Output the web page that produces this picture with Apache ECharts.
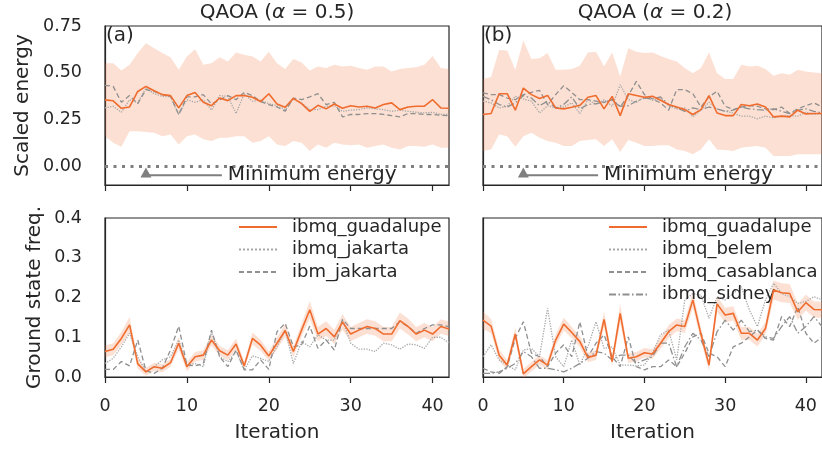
<!DOCTYPE html>
<html>
<head>
<meta charset="utf-8">
<script src="https://cdn.jsdelivr.net/npm/echarts@6/dist/echarts.min.js"></script>
<style>
  html, body { margin: 0; background: #fff; }
  #chart { width: 822px; height: 456px; }
</style>
</head>
<body>
<div id="chart"></div>
<script>
// iterations 0..42
var iters = [0,1,2,3,4,5,6,7,8,9,10,11,12,13,14,15,16,17,18,19,20,21,22,23,24,25,26,27,28,29,30,31,32,33,34,35,36,37,38,39,40,41,42];
var energyTicks = [0, 0.25, 0.5, 0.75];
var freqTicks = [0, 0.1, 0.2, 0.3, 0.4];

// (a) QAOA alpha = 0.5 -- scaled energy
var tlMean = [0.355,0.350,0.310,0.317,0.400,0.427,0.404,0.383,0.378,0.312, 0.378,0.395,0.342,0.324,0.365,0.351,0.378,0.378,0.369,0.346, 0.388,0.333,0.316,0.363,0.335,0.294,0.326,0.307,0.333,0.310, 0.324,0.317,0.321,0.312,0.330,0.339,0.303,0.317,0.321,0.321, 0.356,0.312,0.310];
var tlUpper = [0.551,0.551,0.512,0.543,0.605,0.658,0.631,0.605,0.583,0.516, 0.587,0.626,0.543,0.551,0.583,0.560,0.608,0.596,0.587,0.560, 0.613,0.551,0.520,0.573,0.555,0.512,0.534,0.525,0.543,0.534, 0.537,0.525,0.516,0.534,0.534,0.507,0.520,0.525,0.530,0.543, 0.590,0.525,0.520];
var tlLower = [0.161,0.126,0.105,0.188,0.188,0.183,0.179,0.161,0.170,0.117, 0.161,0.170,0.144,0.135,0.152,0.152,0.161,0.161,0.126,0.135, 0.161,0.117,0.108,0.135,0.126,0.082,0.117,0.099,0.126,0.117, 0.112,0.117,0.099,0.108,0.117,0.099,0.090,0.108,0.108,0.105, 0.117,0.099,0.099];
var tlJakartaQ = [0.312,0.321,0.289,0.356,0.339,0.418,0.388,0.374,0.371,0.277, 0.356,0.342,0.356,0.300,0.378,0.374,0.282,0.388,0.348,0.353, 0.335,0.324,0.303,0.360,0.339,0.303,0.303,0.321,0.324,0.294, 0.300,0.303,0.312,0.307,0.303,0.294,0.300,0.294,0.289,0.285, 0.289,0.277,0.277];
var tlJakartaIbm = [0.433,0.427,0.342,0.378,0.335,0.410,0.401,0.383,0.374,0.277, 0.371,0.371,0.383,0.333,0.356,0.378,0.356,0.395,0.378,0.346, 0.330,0.317,0.294,0.365,0.356,0.371,0.388,0.330,0.342,0.264, 0.277,0.277,0.282,0.282,0.277,0.271,0.264,0.282,0.282,0.277, 0.277,0.273,0.271];

// (b) QAOA alpha = 0.2 -- scaled energy
var trMean = [0.277,0.282,0.388,0.388,0.300,0.418,0.383,0.362,0.379,0.312, 0.307,0.316,0.326,0.369,0.378,0.307,0.374,0.271,0.388,0.378, 0.369,0.374,0.353,0.330,0.317,0.303,0.277,0.303,0.378,0.285, 0.271,0.271,0.330,0.324,0.333,0.317,0.264,0.268,0.264,0.300, 0.280,0.282,0.282];
var trUpper = [0.466,0.477,0.622,0.619,0.516,0.672,0.573,0.578,0.605,0.516, 0.516,0.520,0.537,0.608,0.613,0.534,0.608,0.480,0.631,0.613, 0.605,0.608,0.590,0.573,0.560,0.525,0.498,0.525,0.608,0.498, 0.466,0.466,0.543,0.534,0.537,0.520,0.484,0.498,0.489,0.516, 0.507,0.502,0.498];
var trLower = [0.082,0.090,0.170,0.161,0.105,0.161,0.179,0.152,0.135,0.126, 0.108,0.108,0.135,0.140,0.144,0.108,0.144,0.076,0.140,0.126, 0.108,0.108,0.112,0.112,0.090,0.082,0.064,0.090,0.144,0.090, 0.087,0.082,0.099,0.105,0.108,0.099,0.055,0.055,0.055,0.064, 0.064,0.064,0.064];
var trBelem = [0.348,0.339,0.312,0.321,0.374,0.360,0.348,0.285,0.324,0.312, 0.317,0.339,0.282,0.356,0.330,0.356,0.321,0.436,0.356,0.342, 0.371,0.353,0.365,0.324,0.307,0.312,0.264,0.300,0.342,0.307, 0.294,0.285,0.268,0.268,0.254,0.268,0.259,0.268,0.271,0.268, 0.289,0.277,0.282];
var trCasablanca = [0.392,0.383,0.383,0.365,0.356,0.383,0.395,0.406,0.330,0.383, 0.431,0.395,0.356,0.356,0.348,0.342,0.356,0.317,0.378,0.454, 0.383,0.360,0.339,0.300,0.410,0.410,0.388,0.317,0.371,0.401, 0.321,0.303,0.317,0.324,0.321,0.307,0.303,0.317,0.282,0.307, 0.324,0.339,0.317];
var trSidney = [0.374,0.356,0.330,0.317,0.339,0.378,0.365,0.324,0.348,0.312, 0.330,0.371,0.307,0.330,0.335,0.342,0.356,0.321,0.324,0.348, 0.365,0.360,0.371,0.330,0.312,0.294,0.312,0.303,0.317,0.307, 0.294,0.300,0.317,0.307,0.303,0.300,0.307,0.294,0.282,0.300, 0.307,0.294,0.285];

// ground state frequency, alpha = 0.5
var blMean = [0.064,0.070,0.097,0.131,0.033,0.013,0.026,0.022,0.036,0.085, 0.026,0.051,0.055,0.093,0.066,0.055,0.083,0.028,0.097,0.080, 0.053,0.085,0.117,0.064,0.118,0.169,0.108,0.122,0.101,0.138, 0.108,0.118,0.127,0.122,0.108,0.108,0.142,0.127,0.108,0.118, 0.108,0.127,0.121];
var blSpread = [0.015,0.015,0.016,0.020,0.012,0.010,0.010,0.010,0.010,0.015, 0.012,0.012,0.012,0.014,0.012,0.012,0.014,0.010,0.015,0.014, 0.012,0.015,0.016,0.014,0.016,0.022,0.018,0.018,0.018,0.020, 0.018,0.018,0.018,0.018,0.018,0.018,0.020,0.020,0.018,0.018, 0.018,0.018,0.018];
var blJakartaQ = [0.034,0.047,0.076,0.110,0.051,0.013,0.026,0.043,0.051,0.093, 0.030,0.034,0.026,0.114,0.051,0.039,0.064,0.018,0.053,0.047, 0.039,0.076,0.118,0.034,0.089,0.076,0.106,0.093,0.093,0.143, 0.085,0.070,0.070,0.064,0.085,0.081,0.070,0.083,0.081,0.072, 0.100,0.100,0.086];
var blJakartaIbm = [0.019,0.019,0.039,0.028,0.093,0.016,0.009,0.022,0.068,0.128, 0.030,0.028,0.034,0.118,0.051,0.026,0.068,0.018,0.018,0.043, 0.019,0.114,0.135,0.076,0.081,0.128,0.072,0.093,0.068,0.145, 0.122,0.122,0.122,0.122,0.122,0.122,0.139,0.127,0.110,0.122, 0.131,0.131,0.127];

// ground state frequency, alpha = 0.2
var brMean = [0.143,0.128,0.055,0.030,0.108,0.008,0.026,0.043,0.030,0.093, 0.133,0.112,0.089,0.049,0.055,0.145,0.039,0.160,0.047,0.051, 0.061,0.058,0.085,0.114,0.131,0.127,0.194,0.108,0.030,0.184, 0.156,0.160,0.110,0.110,0.093,0.122,0.219,0.212,0.210,0.164, 0.187,0.170,0.169];
var brSpread = [0.022,0.018,0.014,0.012,0.016,0.012,0.012,0.012,0.012,0.014, 0.016,0.014,0.014,0.012,0.012,0.020,0.012,0.024,0.012,0.012, 0.012,0.012,0.014,0.016,0.016,0.016,0.020,0.016,0.014,0.020, 0.018,0.018,0.016,0.016,0.016,0.016,0.024,0.024,0.024,0.020, 0.020,0.020,0.020];
var brBelem = [0.051,0.081,0.043,0.030,0.018,0.068,0.072,0.051,0.173,0.051, 0.026,0.093,0.030,0.076,0.139,0.072,0.076,0.030,0.030,0.028, 0.030,0.060,0.106,0.118,0.043,0.194,0.210,0.206,0.148,0.202, 0.194,0.210,0.227,0.169,0.127,0.194,0.236,0.210,0.202,0.185, 0.190,0.202,0.194];
var brCasablanca = [0.022,0.013,0.009,0.026,0.097,0.139,0.060,0.051,0.026,0.060, 0.081,0.051,0.139,0.051,0.085,0.106,0.051,0.026,0.101,0.026, 0.018,0.026,0.026,0.043,0.026,0.060,0.101,0.110,0.060,0.051, 0.026,0.076,0.085,0.101,0.118,0.097,0.093,0.152,0.127,0.177, 0.110,0.085,0.101];
var brSidney = [0.009,0.009,0.013,0.022,0.034,0.064,0.051,0.022,0.022,0.018, 0.013,0.022,0.034,0.047,0.064,0.060,0.043,0.055,0.055,0.034, 0.043,0.051,0.085,0.085,0.026,0.076,0.110,0.093,0.051,0.114, 0.143,0.118,0.143,0.114,0.118,0.101,0.097,0.127,0.152,0.110, 0.127,0.152,0.127];

// annotation anchors (data coords)
var minTip = [5, 0];
var minLabel = [15, -0.048];

var FONT = 'DejaVu Sans';
var INK = '#262626';
var ORANGE = '#ef6c2e';
var BAND = 'rgba(240,112,55,0.22)';
var GREY = '#8f8f8f';
var GREY_LIGHT = '#a8a8a8';

var myChart = echarts.init(document.getElementById('chart'));

function band(g, lo, hi) {
  var diff = hi.map(function (v, i) { return v - lo[i]; });
  return [
    { name: 'lo' + g, type: 'line', xAxisIndex: g, yAxisIndex: g, data: lo, stack: 'band' + g,
      stackStrategy: 'all', symbol: 'none', lineStyle: { opacity: 0 }, silent: true, z: 1 },
    { name: 'hi' + g, type: 'line', xAxisIndex: g, yAxisIndex: g, data: diff, stack: 'band' + g,
      stackStrategy: 'all', symbol: 'none', lineStyle: { opacity: 0 }, silent: true, z: 1,
      areaStyle: { color: BAND, opacity: 1 } }
  ];
}

function line(g, name, data, color, type, width, z) {
  return { name: name, type: 'line', xAxisIndex: g, yAxisIndex: g, data: data, symbol: 'none',
    silent: true, z: z || 3, itemStyle: { color: color },
    lineStyle: { color: color, type: type, width: width } };
}

var zeroLine = {
  silent: true, symbol: 'none', label: { show: false },
  lineStyle: { color: '#7f7f7f', type: [3, 5.5], width: 3 },
  data: [{ yAxis: 0 }]
};

var grids = [
  { left: 105, top: 26, width: 344, height: 159 },
  { left: 483, top: 26, width: 344, height: 159 },
  { left: 105, top: 218, width: 344, height: 159 },
  { left: 483, top: 218, width: 344, height: 159 }
].map(function (g) {
  g.show = true; g.borderColor = INK; g.borderWidth = 1.2; g.backgroundColor = 'transparent';
  return g;
});

function xAxis(g, labelled) {
  return {
    type: 'category', gridIndex: g, data: iters, boundaryGap: false,
    axisLine: { onZero: false, lineStyle: { color: INK, width: 1.2 } },
    axisTick: { interval: 9, length: 6, lineStyle: { color: INK, width: 1.2 } },
    axisLabel: { show: labelled, interval: 9, margin: 20, color: INK, fontSize: 17.5, fontFamily: FONT },
    splitLine: { show: false },
    name: labelled ? 'Iteration' : '', nameLocation: 'middle', nameGap: 46,
    nameTextStyle: { color: INK, fontSize: 20, fontFamily: FONT }
  };
}

function yAxis(g, min, max, ticks, digits, name, gap) {
  return {
    type: 'value', gridIndex: g, min: min, max: max,
    axisLine: { show: true, lineStyle: { color: INK, width: 1.2 } },
    axisTick: { length: 6, customValues: ticks, lineStyle: { color: INK, width: 1.2 } },
    axisLabel: { show: !!name, customValues: ticks, margin: 23, color: INK, fontSize: 17.5, fontFamily: FONT,
      formatter: function (v) { return Math.abs(v).toFixed(digits); } },
    splitLine: { show: false },
    name: name || '', nameLocation: 'middle', nameGap: gap || 72,
    nameTextStyle: { color: INK, fontSize: 20, fontFamily: FONT }
  };
}

var series = [].concat(
  band(0, tlLower, tlUpper),
  [line(0, 'ibmq_jakarta', tlJakartaQ, GREY_LIGHT, 'dotted', 1.3),
   line(0, 'ibm_jakarta', tlJakartaIbm, GREY, [5, 3], 1.3),
   Object.assign(line(0, 'ibmq_guadalupe', tlMean, ORANGE, 'solid', 1.6, 4), { markLine: zeroLine })],
  band(1, trLower, trUpper),
  [line(1, 'ibmq_belem', trBelem, GREY_LIGHT, 'dotted', 1.3),
   line(1, 'ibmq_casablanca', trCasablanca, GREY, [5, 3], 1.3),
   line(1, 'ibmq_sidney', trSidney, GREY, [7, 2.5, 1.5, 2.5], 1.3),
   Object.assign(line(1, 'ibmq_guadalupe', trMean, ORANGE, 'solid', 1.6, 4), { markLine: zeroLine })],
  band(2, blMean.map(function (v, i) { return v - blSpread[i]; }), blMean.map(function (v, i) { return v + blSpread[i]; })),
  [line(2, 'ibmq_jakarta', blJakartaQ, GREY_LIGHT, 'dotted', 1.3),
   line(2, 'ibm_jakarta', blJakartaIbm, GREY, [5, 3], 1.3),
   line(2, 'ibmq_guadalupe', blMean, ORANGE, 'solid', 1.6, 4)],
  band(3, brMean.map(function (v, i) { return v - brSpread[i]; }), brMean.map(function (v, i) { return v + brSpread[i]; })),
  [line(3, 'ibmq_belem', brBelem, GREY_LIGHT, 'dotted', 1.3),
   line(3, 'ibmq_casablanca', brCasablanca, GREY, [5, 3], 1.3),
   line(3, 'ibmq_sidney', brSidney, GREY, [7, 2.5, 1.5, 2.5], 1.3),
   line(3, 'ibmq_guadalupe', brMean, ORANGE, 'solid', 1.6, 4)]
);

function legend(left, names) {
  return {
    data: names, left: left, top: 216, orient: 'vertical', padding: 0,
    itemWidth: 38, itemHeight: 14, itemGap: 0.5, selectedMode: false,
    itemStyle: { opacity: 0 },
    textStyle: { color: INK, fontSize: 18, fontFamily: FONT, lineHeight: 22, padding: [0, 0, 0, 10] }
  };
}

var option = {
  animation: false,
  backgroundColor: '#fff',
  textStyle: { fontFamily: FONT },
  grid: grids,
  xAxis: [xAxis(0, false), xAxis(1, false), xAxis(2, true), xAxis(3, true)],
  yAxis: [
    yAxis(0, -0.1, 0.75, energyTicks, 2, 'Scaled energy', 72),
    yAxis(1, -0.1, 0.75, energyTicks, 2, null),
    yAxis(2, 0, 0.4, freqTicks, 1, 'Ground state freq.', 60),
    yAxis(3, 0, 0.4, freqTicks, 1, null)
  ],
  legend: [
    legend(238, ['ibmq_guadalupe', 'ibmq_jakarta', 'ibm_jakarta']),
    legend(608, ['ibmq_guadalupe', 'ibmq_belem', 'ibmq_casablanca', 'ibmq_sidney'])
  ],
  series: series
};
myChart.setOption(option);

// titles, panel letters and the "Minimum energy" arrows
var graphics = [];
var titles = ['QAOA ({i|\u03b1} = 0.5)', 'QAOA ({i|\u03b1} = 0.2)'];
var letters = ['(a)', '(b)'];
[0, 1].forEach(function (k) {
  var gl = grids[k].left;
  graphics.push({
    type: 'text', x: gl + 172, y: 13, silent: true,
    style: { text: titles[k], align: 'center', verticalAlign: 'middle', fill: INK, fontSize: 20, fontFamily: FONT,
      rich: { i: { fontStyle: 'italic', fontSize: 20, fontFamily: FONT, fill: INK } } }
  });
  graphics.push({
    type: 'text', x: gl + 1, y: 36, silent: true,
    style: { text: letters[k], align: 'left', verticalAlign: 'middle', fill: INK, fontSize: 20, fontFamily: FONT }
  });
  var tip = myChart.convertToPixel({ gridIndex: k }, minTip);
  var lab = myChart.convertToPixel({ gridIndex: k }, minLabel);
  graphics.push({
    type: 'polygon', silent: true, z: 10,
    shape: { points: [[tip[0], tip[1] + 1.3], [tip[0] - 5.5, tip[1] + 11.3], [tip[0] + 5.5, tip[1] + 11.3]] },
    style: { fill: '#7f7f7f' }
  });
  graphics.push({
    type: 'line', silent: true, z: 10,
    shape: { x1: tip[0] + 3, y1: tip[1] + 9, x2: lab[0] - 6, y2: tip[1] + 9 },
    style: { stroke: '#7f7f7f', lineWidth: 2 }
  });
  graphics.push({
    type: 'text', x: lab[0], y: lab[1], silent: true, z: 10,
    style: { text: 'Minimum energy', align: 'left', verticalAlign: 'middle', fill: INK, fontSize: 20, fontFamily: FONT }
  });
});
myChart.setOption({ graphic: graphics });
</script>
</body>
</html>
